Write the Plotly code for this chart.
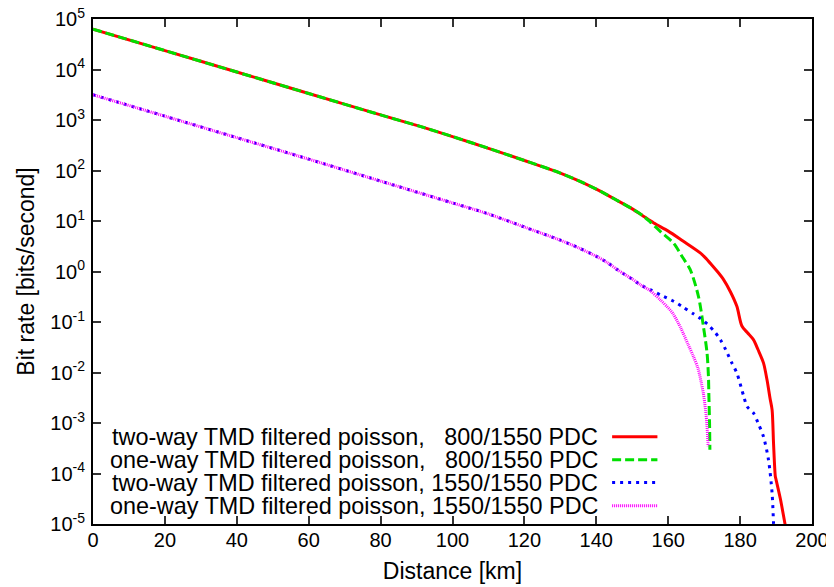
import plotly.graph_objects as go

# ---- data (distance in km, bit rate in bits/second) ----
x_two_800 = [0, 20, 40, 60, 80, 91, 100, 110, 120, 130, 135, 140, 143, 146, 150, 153, 156, 160, 164, 168.9,
             170.5, 172, 173.8, 175.4, 177.3, 179.1, 180.5, 182, 183.7, 185, 186.5, 187.5, 188.3, 188.9,
             189.3, 189.8, 190.0, 191.2, 192.5, 192.8]
y_two_800 = [6.3e4, 2.37e4, 8.91e3, 3.35e3, 1.26e3, 7.46e2, 4.7e2, 2.75e2, 1.58e2, 8.9e1, 6.3e1, 4.27e1, 3.3e1,
             2.51e1, 1.74e1, 1.26e1, 9.12, 6.31, 4.07, 2.34,
             1.82, 1.38, 9.77e-1, 6.92e-1, 3.98e-1, 2.04e-1, 8.32e-2, 6.17e-2, 4.47e-2, 2.82e-2, 1.55e-2,
             7.08e-3, 3.16e-3, 1.82e-3, 3.98e-4, 8.71e-5, 7.59e-5, 3.16e-5, 1.0e-5, 7.9e-6]

x_one_800 = [0, 20, 40, 60, 80, 91, 100, 110, 120, 130, 135, 140, 143, 146, 150, 153, 155, 158, 161.5, 164, 166.1,
             168.4, 169.8, 170.8, 171.2, 171.3, 171.5, 171.6]
y_one_800 = [6.3e4, 2.37e4, 8.91e3, 3.35e3, 1.26e3, 7.46e2, 4.7e2, 2.75e2, 1.58e2, 8.9e1, 6.3e1, 4.27e1, 3.3e1,
             2.51e1, 1.74e1, 1.26e1, 9.55, 6.03, 3.63, 1.91, 1.10,
             3.24e-1, 8.13e-2, 2.45e-2, 8.3e-3, 3.9e-3, 1.0e-3, 2.95e-4]

x_two_1550 = [0, 20, 40, 60, 80, 100, 110, 120, 130, 135, 140, 143, 146, 150, 152.2, 155, 158, 161.5, 164, 167,
              169, 171, 173, 174.5, 176, 177.7, 179.1, 181, 182, 183.7, 185, 186.5, 187.9, 188.9, 189.3, 189.4]
y_two_1550 = [3.16e3, 1.19e3, 4.47e2, 1.68e2, 6.17e1, 2.28e1, 1.38e1, 7.59, 4.17, 2.95, 2.0, 1.51, 1.07, 7.08e-1,
              5.5e-1, 4.37e-1, 3.39e-1, 2.57e-1, 2.0e-1, 1.45e-1,
              1.17e-1, 8.91e-2, 6.31e-2, 4.47e-2, 2.82e-2, 1.55e-2, 9.77e-3, 3.39e-3, 2.09e-3, 1.58e-3,
              1.0e-3, 5.37e-4, 1.86e-4, 4.07e-5, 1.05e-5, 7.9e-6]

x_one_1550 = [0, 20, 40, 60, 80, 100, 110, 120, 130, 135, 140, 143, 146, 150, 152.2, 155, 157.8, 160.5, 161.5,
              163.5, 165.5, 167, 168.3, 169.2, 169.8, 170.4, 170.8, 171.1]
y_one_1550 = [3.16e3, 1.19e3, 4.47e2, 1.68e2, 6.17e1, 2.28e1, 1.38e1, 7.59, 4.17, 2.95, 2.0, 1.51, 1.07, 7.08e-1,
              5.5e-1, 4.17e-1, 2.75e-1, 1.74e-1, 1.41e-1,
              7.59e-2, 3.63e-2, 2.09e-2, 1.2e-2, 6.31e-3, 3.8e-3, 1.78e-3, 8.51e-4, 3.47e-4]

names = ["two-way TMD filtered poisson,\u2007 800/1550 PDC",
         "one-way TMD filtered poisson,\u2007 800/1550 PDC",
         "two-way TMD filtered poisson, 1550/1550 PDC",
         "one-way TMD filtered poisson, 1550/1550 PDC"]
colors = ["#ff0000", "#00e000", "#0000ff", "#ff00ff"]
dashes = ["solid", "9px,4px", "3px,5px", "1px,1px"]

x_ticks = [0, 20, 40, 60, 80, 100, 120, 140, 160, 180, 200]
y_exps = [-5, -4, -3, -2, -1, 0, 1, 2, 3, 4, 5]

FONT = "Liberation Sans, Arial, sans-serif"

fig = go.Figure()
series = [(x_two_800, y_two_800), (x_one_800, y_one_800), (x_two_1550, y_two_1550), (x_one_1550, y_one_1550)]
for (xs, ys), nm, c, d in zip(series, names, colors, dashes):
    fig.add_trace(go.Scatter(x=xs, y=ys, mode="lines", name=nm,
                             line=dict(color=c, width=3, dash=d, shape="spline", smoothing=0.8),
                             showlegend=False))

# gnuplot-style legend: right-aligned text with sample line on its right
rows = [0.173, 0.127, 0.082, 0.036]
for nm, c, d, yr in zip(names, colors, dashes, rows):
    fig.add_annotation(xref="paper", yref="paper", x=0.705, y=yr, text=nm, showarrow=False,
                       xanchor="right", yanchor="middle", font=dict(size=23.4, color="black", family=FONT))
    fig.add_shape(type="line", xref="paper", yref="paper", x0=0.722, x1=0.785, y0=yr, y1=yr,
                  line=dict(color=c, width=3, dash=d))

axis_common = dict(showline=True, linecolor="black", linewidth=2, mirror="ticks",
                   ticks="inside", ticklen=8, tickwidth=1.5, tickcolor="#333333",
                   showgrid=False, zeroline=False, automargin=False, ticklabeloverflow="allow",
                   tickfont=dict(size=20, color="black", family=FONT))

fig.update_xaxes(range=[0, 200], tickvals=x_ticks, ticktext=[str(v) for v in x_ticks],
                 ticklabelstandoff=-3,
                 title=dict(text="Distance [km]", font=dict(size=23, color="black", family=FONT), standoff=13),
                 **axis_common)
fig.update_yaxes(type="log", range=[-5, 5], tickvals=[10.0 ** e for e in y_exps],
                 ticktext=["10<sup>%d</sup>" % e for e in y_exps], ticklabelstandoff=2,
                 title=dict(text="Bit rate [bits/second]", font=dict(size=23, color="black", family=FONT), standoff=9),
                 **axis_common)

# page body has an 8px margin, so the figure is drawn 8px smaller and offset
fig.update_layout(width=826, height=579, margin=dict(l=85, r=22, t=11, b=63, autoexpand=False),
                  plot_bgcolor="white", paper_bgcolor="white",
                  font=dict(family=FONT, color="black"))

fig.write_html("out.html")
